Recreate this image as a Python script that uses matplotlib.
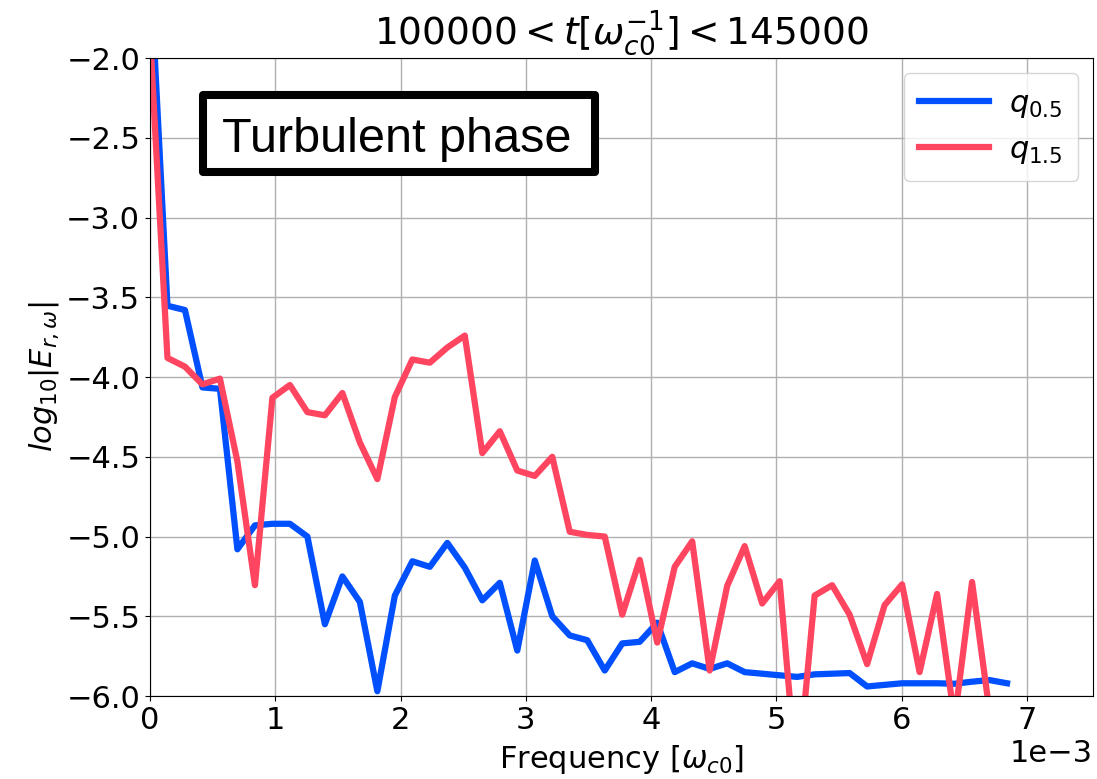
import numpy as np
import matplotlib
matplotlib.use("Agg")
import matplotlib.pyplot as plt
from matplotlib.patches import Rectangle

plt.rcParams['font.family'] = ['DejaVu Sans']
plt.rcParams['mathtext.fontset'] = 'dejavusans'

# Frequency grid in units of 1e-3 omega_c0
freq_e3 = [0.0, 0.1396, 0.2793, 0.4189, 0.5585, 0.6981, 0.8378, 0.9774, 1.1170, 1.2566,
           1.3963, 1.5359, 1.6755, 1.8151, 1.9548, 2.0944, 2.2340, 2.3736, 2.5133, 2.6529,
           2.7925, 2.9322, 3.0718, 3.2114, 3.3510, 3.4907, 3.6303, 3.7699, 3.9095, 4.0492,
           4.1888, 4.3284, 4.4680, 4.6077, 4.7473, 4.8869, 5.0265, 5.1662, 5.3058, 5.4454,
           5.5851, 5.7247, 5.8643, 6.0039, 6.1436, 6.2832, 6.4228, 6.5624, 6.7021, 6.8417]

q05 = [-1.40, -3.553, -3.58, -4.065, -4.074, -5.08, -4.93, -4.92, -4.92, -5.00,
       -5.55, -5.25, -5.41, -5.97, -5.37, -5.155, -5.19, -5.04, -5.195, -5.40,
       -5.29, -5.715, -5.15, -5.50, -5.62, -5.65, -5.84, -5.67, -5.66, -5.54,
       -5.85, -5.795, -5.83, -5.795, -5.85, -5.86, -5.87, -5.88, -5.864, -5.86,
       -5.856, -5.94, -5.93, -5.92, -5.92, -5.92, -5.923, -5.91, -5.90, -5.92]

q15 = [-1.85, -3.88, -3.935, -4.046, -4.01, -4.53, -5.305, -4.13, -4.05, -4.22,
       -4.24, -4.10, -4.41, -4.64, -4.125, -3.89, -3.91, -3.815, -3.74, -4.477,
       -4.34, -4.586, -4.62, -4.50, -4.97, -4.99, -5.00, -5.49, -5.146, -5.665,
       -5.19, -5.03, -5.84, -5.31, -5.06, -5.42, -5.28, -6.55, -5.37, -5.305,
       -5.49, -5.80, -5.43, -5.30, -5.85, -5.36, -6.15, -5.285, -6.10, -6.40]

labels = [r"$q_{0.5}$", r"$q_{1.5}$"]
title = r"$100000 < t[\omega_{c0}^{-1}] < 145000$"
xlabel = r"Frequency [$\omega_{c0}$]"
ylabel = r"$log_{10}|E_{r,\omega}|$"
annotation = "Turbulent phase"

freq = np.array(freq_e3) * 1e-3

fig = plt.figure(figsize=(10.97, 7.79), dpi=100)
ax = fig.add_axes([0.1367, 0.1065, 0.9966 - 0.1367, 0.9255 - 0.1065])

ax.plot(freq, q05, color="#0050ff", lw=4.5, label=labels[0])
ax.plot(freq, q15, color="#ff4560", lw=4.5, label=labels[1])

ax.set_xlim(0, 7.53e-3)
ax.set_ylim(-6.0, -2.0)
ax.set_yticks(np.arange(-6.0, -1.99, 0.5))
ax.set_xticks(np.arange(0, 8e-3, 1e-3))
ax.ticklabel_format(axis='x', style='sci', scilimits=(0, 0))
ax.grid(True, color="#b0b0b0", lw=1.0)
ax.tick_params(labelsize=22)
ax.xaxis.get_offset_text().set_fontsize(22)

ax.set_title(title, fontsize=27, pad=6)
ax.set_xlabel(xlabel, fontsize=22, labelpad=6)
ax.set_ylabel(ylabel, fontsize=22, labelpad=4)

leg = ax.legend(loc="upper right", fontsize=22, handlelength=2.3, borderpad=0.5,
                borderaxespad=0.5, handletextpad=0.65)

box = Rectangle((0.0562, 0.8213), 0.4719 - 0.0562, 0.9420 - 0.8213,
                transform=ax.transAxes, fc="white", ec="black", lw=5.8,
                joinstyle="round", zorder=5)
ax.add_patch(box)
ax.text(0.0764, 0.8527, annotation, transform=ax.transAxes, fontsize=35,
        family="Liberation Sans", va="baseline", ha="left", zorder=6)

fig.savefig("out.png", dpi=100)
